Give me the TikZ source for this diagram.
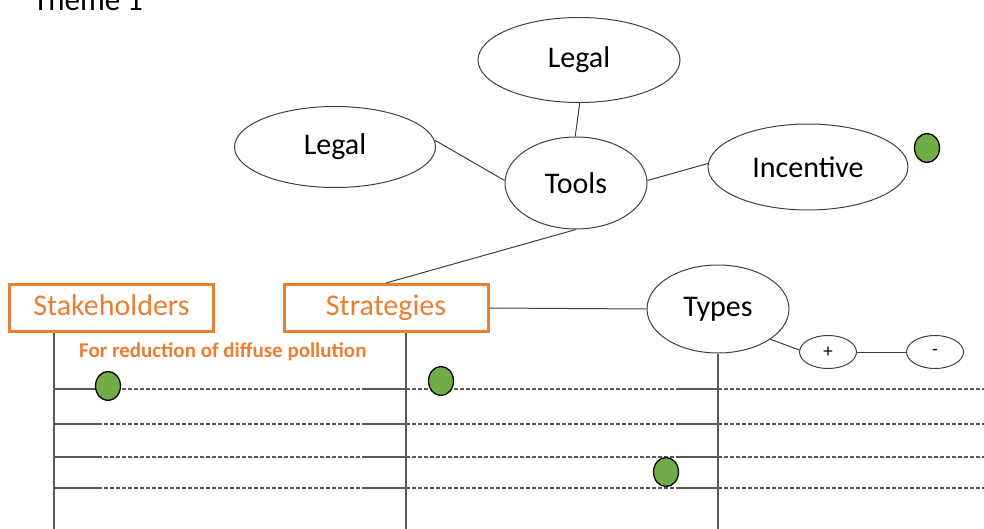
\documentclass[tikz,border=0pt]{standalone}
\usepackage{fontspec}
\setmainfont{Carlito}
\usetikzlibrary{shapes.geometric}
\definecolor{orng}{HTML}{ED7D31}
\definecolor{grn}{HTML}{70AD47}
\definecolor{ln}{HTML}{595959}
\definecolor{edge}{HTML}{404040}
\tikzset{
  bubble/.style={ellipse, draw=edge, line width=1pt, inner sep=0pt, font=\fontsize{30}{36}\selectfont},
  smallbubble/.style={ellipse, draw=edge, line width=1pt, inner sep=0pt, font=\fontsize{19}{22}\selectfont},
  obox/.style={rectangle, draw=orng, line width=3pt, inner sep=0pt, text=orng, minimum width=204pt, minimum height=47pt, text height=21pt, text depth=7pt, font=\fontsize{30}{36}\selectfont},
  dot/.style={ellipse, draw=black, fill=grn, line width=1.3pt, inner sep=0pt, minimum width=25pt, minimum height=29pt},
  link/.style={draw=edge, line width=1pt},
  stem/.style={draw=ln, line width=1.3pt},
  solidseg/.style={draw=ln, line width=1.3pt},
  dashseg/.style={draw=ln, line width=1.3pt, dash pattern=on 3.5pt off 2.5pt},
}
\begin{document}
\begin{tikzpicture}[x=1pt,y=-1pt]
\useasboundingbox (0,0) rectangle (984,529);
% title
\node[anchor=base west, inner sep=0pt, font=\fontsize{31}{36}\selectfont] (title) at (33,11) {Theme 1};
% ellipses
\node[bubble, minimum width=202pt, minimum height=85pt] (legalT) at (579,60) {Legal};
\node[bubble, minimum width=201pt, minimum height=81pt] (legalL) at (335,147) {Legal};
\node[bubble, minimum width=142pt, minimum height=92pt] (tools) at (576,183) {Tools};
\node[bubble, minimum width=200pt, minimum height=86pt] (incent) at (808,167) {Incentive};
\node[bubble, minimum width=142pt, minimum height=88pt] (types) at (718,309) {Types};
\node[smallbubble, minimum width=57pt, minimum height=33pt] (plus) at (828,352) {+};
\node[smallbubble, minimum width=57pt, minimum height=33pt] (minus) at (935,352) {-};
% boxes
\node[obox] (stake) at (111.5,308) {Stakeholders};
\node[obox] (strat) at (386,308) {Strategies};
\node[anchor=base west, inner sep=0pt, text=orng, font=\bfseries\fontsize{21}{25}\selectfont] (note) at (79,357) {For reduction of diffuse pollution};
% connectors
\draw[link] (legalT.-89) -- (tools.91);
\draw[link] (legalL.4) -- (tools.178);
\draw[link] (tools.2) -- (incent.178);
\draw[link] (tools.south) -- (strat.north);
\draw[link] (strat.east) -- (types.west);
\draw[link] (types.-30) -- (plus.176);
\draw[link] (plus.east) -- (minus.west);
% stems
\coordinate (s1t) at (54,333);
\coordinate (s1b) at (54,529);
\coordinate (s2t) at (406,333);
\coordinate (s2b) at (406,529);
\coordinate (s3b) at (types.south |- s1b);
\draw[stem] (s1t) -- (s1b);
\draw[stem] (s2t) -- (s2b);
\draw[stem] (types.south) -- (s3b);
% rows
\foreach \y in {389,424,457,488}{
  \draw[solidseg] (54,\y) -- (98,\y);
  \draw[dashseg] (98,\y) -- (365,\y);
  \draw[solidseg] (365,\y) -- (406,\y);
  \draw[dashseg] (406,\y) -- (677,\y);
  \draw[solidseg] (677,\y) -- (718,\y);
  \draw[dashseg] (718,\y) -- (984,\y);
}
% dots
\node[dot] (d0) at (927,148) {};
\node[dot] (d1) at (108,386) {};
\node[dot] (d2) at (441,381) {};
\node[dot] (d3) at (666,472) {};
\end{tikzpicture}
\end{document}
